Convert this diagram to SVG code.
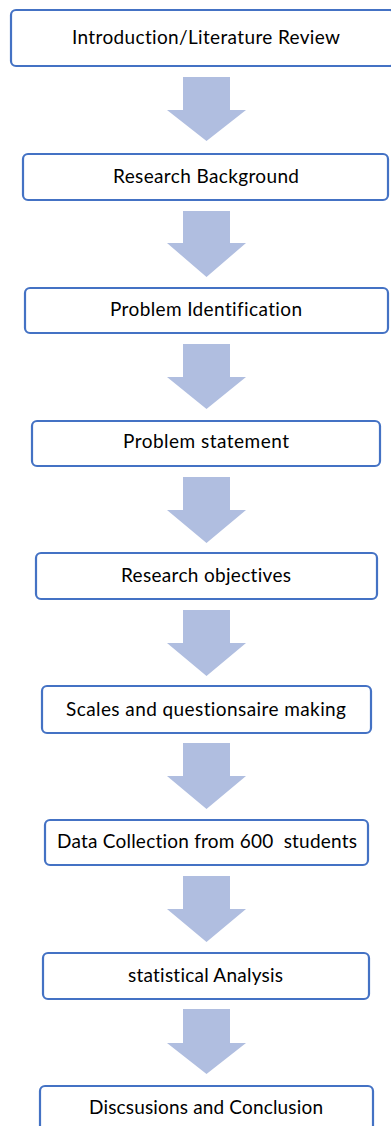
<svg xmlns="http://www.w3.org/2000/svg" width="391" height="1126" viewBox="0 0 391 1126">
<defs>
<style>
.box{fill:#ffffff;stroke:#4472C4;stroke-width:2.2}
.lbl{font-family:Lato,"Liberation Sans",sans-serif;font-size:19px;fill:#000000;text-anchor:middle;font-variant-ligatures:none}
.arr{fill:#B0BEE0}
</style>
</defs>
<rect width="391" height="1126" fill="#ffffff"/>
<g id="connectors">
<path class="arr" d="M183 77H230V110H246L206.5 141L167 110H183Z"/>
<path class="arr" d="M183 211H230V243H246L206.5 277L167 243H183Z"/>
<path class="arr" d="M183 344H230V377H246L206.5 409L167 377H183Z"/>
<path class="arr" d="M183 477H230V510H246L206.5 543L167 510H183Z"/>
<path class="arr" d="M183 610H230V643H246L206.5 676L167 643H183Z"/>
<path class="arr" d="M183 743H230V776H246L206.5 809L167 776H183Z"/>
<path class="arr" d="M183 876H230V909H246L206.5 942L167 909H183Z"/>
<path class="arr" d="M183 1009H230V1043H246L206.5 1074L167 1043H183Z"/>
</g>
<g id="n1"><rect class="box" x="11" y="10" width="384" height="56" rx="5"/><text class="lbl" x="206" y="44" textLength="268">Introduction/Literature Review</text></g>
<g id="n2"><rect class="box" x="23" y="154" width="365" height="46" rx="5"/><text class="lbl" x="206" y="183" textLength="186">Research Background</text></g>
<g id="n3"><rect class="box" x="25" y="288" width="363" height="45" rx="5"/><text class="lbl" x="206" y="316" textLength="192">Problem Identification</text></g>
<g id="n4"><rect class="box" x="32" y="421" width="348" height="45" rx="5"/><text class="lbl" x="206" y="448" textLength="166">Problem statement</text></g>
<g id="n5"><rect class="box" x="36" y="553" width="341" height="46" rx="5"/><text class="lbl" x="206" y="582" textLength="170">Research objectives</text></g>
<g id="n6"><rect class="box" x="42" y="686" width="329" height="47" rx="5"/><text class="lbl" x="206" y="716" textLength="280">Scales and questionsaire making</text></g>
<g id="n7"><rect class="box" x="45" y="820" width="323" height="45" rx="5"/><text class="lbl" x="207" y="848" textLength="300" xml:space="preserve">Data Collection from 600  students</text></g>
<g id="n8"><rect class="box" x="43" y="953" width="326" height="46" rx="5"/><text class="lbl" x="205.5" y="982" textLength="155">statistical Analysis</text></g>
<g id="n9"><rect class="box" x="40" y="1086" width="333" height="50" rx="5"/><text class="lbl" x="206" y="1114" textLength="234">Discsusions and Conclusion</text></g>
</svg>
